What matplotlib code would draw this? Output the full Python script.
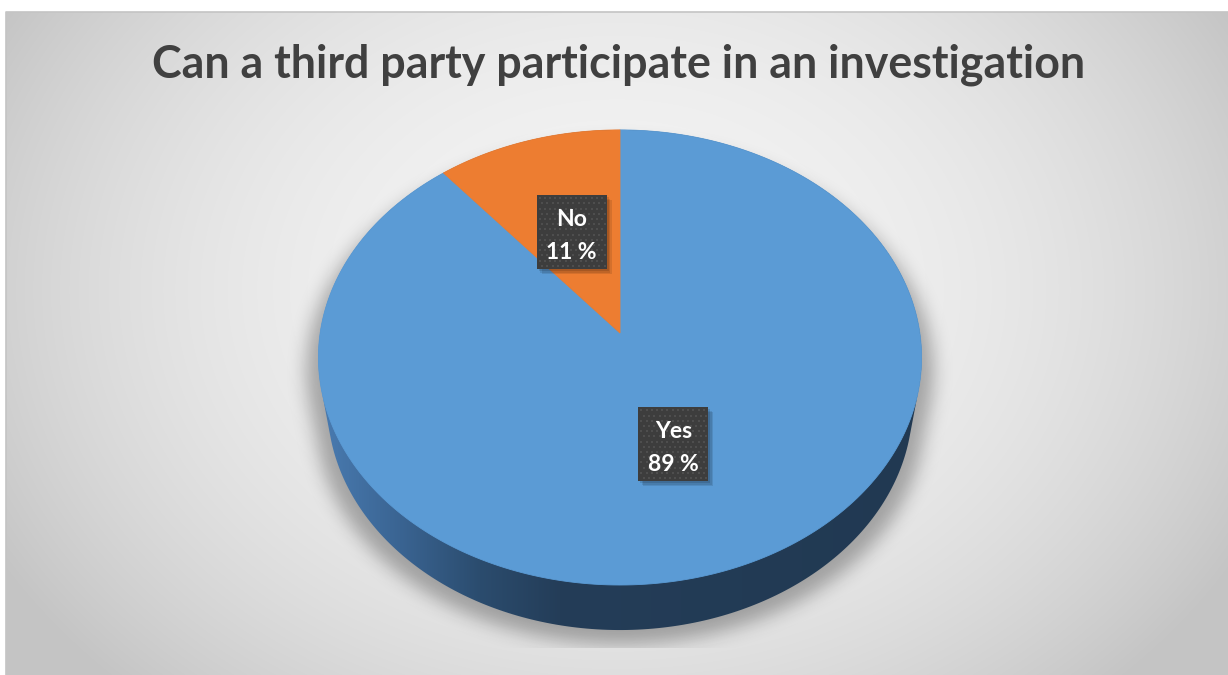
import numpy as np
import matplotlib
matplotlib.use("Agg")
import matplotlib.pyplot as plt
from matplotlib.patches import Polygon, Rectangle
from matplotlib.path import Path

# ---- data ----
categories = ["Yes", "No"]
values = [89, 11]
colors = ["#5B9BD5", "#ED7D31"]
title = "Can a third party participate in an investigation"

W, H = 1228, 675
fig = plt.figure(figsize=(W / 100, H / 100), dpi=100)
ax = fig.add_axes([0, 0, 1, 1])
ax.set_xlim(0, W)
ax.set_ylim(H, 0)
ax.axis("off")
fig.patch.set_facecolor("white")

# ---- chart area background (radial grey gradient) ----
fx0, fy0 = 6, 12
gx = np.arange(fx0, W) + 0.5
gy = np.arange(fy0, H) + 0.5
GX, GY = np.meshgrid(gx, gy)
r = np.sqrt(((GX - 617) / 720) ** 2 + ((GY - 290) / 560) ** 2)
shade = np.clip(0.955 - 0.19 * r ** 2.2, 0.77, 1)
bg = np.dstack([shade, shade, shade])
ax.imshow(bg, extent=(fx0, W, H, fy0), origin="upper", zorder=0,
          interpolation="bilinear")
ax.plot([fx0, fx0, W], [H, fy0, fy0], color="#c4c4c4", lw=1.2, zorder=1)

# ---- 3D pie projection ----
cx, cy = 620, 333
theta = np.deg2rad(48.6)
D, F, hgt = 6.15, 1844.0, 0.248
s_, c_ = np.sin(theta), np.cos(theta)


def project(u, v, w):
    depth = D + v * c_ - w * s_
    x = cx + F * u / depth
    y = cy - F * (v * s_ + w * c_) / depth
    return x, y


def rim(a0, a1, w, n=200):
    a = np.linspace(a0, a1, n)
    return project(np.sin(a), np.cos(a), w)


def convex_hull(pts):
    pts = sorted(set(map(tuple, np.round(pts, 3))))

    def cross(o, a, b):
        return (a[0] - o[0]) * (b[1] - o[1]) - (a[1] - o[1]) * (b[0] - o[0])
    lower, upper = [], []
    for p in pts:
        while len(lower) >= 2 and cross(lower[-2], lower[-1], p) <= 0:
            lower.pop()
        lower.append(p)
    for p in reversed(pts):
        while len(upper) >= 2 and cross(upper[-2], upper[-1], p) <= 0:
            upper.pop()
        upper.append(p)
    return np.array(lower[:-1] + upper[:-1])


tx, ty = rim(0, 2 * np.pi, 0, 400)
bx, by = rim(0, 2 * np.pi, -hgt, 400)
hull = convex_hull(np.column_stack([np.r_[tx, bx], np.r_[ty, by]]))

# ---- soft shadow beneath the pie ----
def gblur(img, sigma):
    k = np.arange(-3 * sigma, 3 * sigma + 1)
    k = np.exp(-0.5 * (k / sigma) ** 2)
    k /= k.sum()
    img = np.apply_along_axis(lambda m: np.convolve(m, k, mode="same"), 1, img)
    img = np.apply_along_axis(lambda m: np.convolve(m, k, mode="same"), 0, img)
    return img


sh = hull.copy()
sh[:, 0] = 620 + (sh[:, 0] - 620) * 1.04
sh[:, 1] = sh[:, 1] + 14
PX, PY = np.meshgrid(np.arange(W) + 0.5, np.arange(H) + 0.5)
mask = Path(sh).contains_points(np.column_stack([PX.ravel(), PY.ravel()]))
mask = mask.reshape(H, W).astype(float)
mask = gblur(mask, 9)
mask[PY > 648] = 0
mask[PX < fx0] = 0
shadow = np.zeros((H, W, 4))
shadow[..., 3] = mask * 0.30
ax.imshow(shadow, extent=(0, W, H, 0), origin="upper", zorder=2,
          interpolation="bilinear")

# ---- side wall with a left-to-right gradient ----
stops_x = [317, 400, 480, 560, 923]
stops_c = np.array([[74, 124, 178], [58, 100, 146], [43, 76, 110],
                    [36, 61, 88], [33, 57, 82]]) / 255
xs = np.arange(300, 940)
side = np.stack([np.interp(xs, stops_x, stops_c[:, i]) for i in range(3)], -1)
side_img = np.repeat(side[None, :, :], 2, axis=0)
hull_patch = Polygon(hull, closed=True, transform=ax.transData)
im = ax.imshow(side_img, extent=(300, 940, 660, 100), origin="upper",
               zorder=3, interpolation="bilinear", aspect="auto")
im.set_clip_path(hull_patch)

# ---- top face wedges (clockwise from 12 o'clock) ----
total = float(sum(values))
start = 0.0
mids = []
for cat, val, col in zip(categories, values, colors):
    span = 2 * np.pi * val / total
    ax_, ay_ = rim(start, start + span, 0, 300)
    pts = np.column_stack([np.r_[cx, ax_], np.r_[cy, ay_]])
    ax.add_patch(Polygon(pts, closed=True, facecolor=col, edgecolor=col,
                         lw=0.6, zorder=4))
    mids.append(start + span / 2)
    start += span

# ---- data labels ----
bw, bh = 70, 74
label_font = dict(color="white", fontsize=16.5, fontweight="bold",
                  family=["Lato", "DejaVu Sans"], ha="center", va="baseline",
                  zorder=8)
for cat, val, mid in zip(categories, values, mids):
    lx, ly = project(0.5 * np.sin(mid), 0.5 * np.cos(mid), 0)
    x0, y0 = lx - bw / 2, ly - bh / 2
    for k, a in enumerate([0.10, 0.10, 0.12]):
        off = 5 - k * 1.5
        ax.add_patch(Rectangle((x0 + off, y0 + off), bw, bh, facecolor="black",
                               edgecolor="none", alpha=a, zorder=5))
    ax.add_patch(Rectangle((x0, y0), bw, bh, facecolor="#3d3d3d",
                           edgecolor="none", zorder=6))
    dx = np.arange(x0 + 3, x0 + bw - 1, 5.2)
    dy = np.arange(y0 + 3, y0 + bh - 1, 5.2)
    DX, DY = np.meshgrid(dx, dy)
    DX[1::2] += 2.6
    ok = DX < x0 + bw - 1
    ax.scatter(DX[ok], DY[ok], s=1.3, marker="s", color="#4e4e4e",
               linewidths=0, zorder=7)
    ax.text(lx, ly - 6, cat, **label_font)
    ax.text(lx, ly + 27, f"{val} %", **label_font)

# ---- title ----
ax.text(619, 77, title, color="#404040", fontsize=32.2, fontweight="bold",
        family=["Lato", "DejaVu Sans"], ha="center", va="baseline", zorder=8)

fig.savefig("out.png", dpi=100)
